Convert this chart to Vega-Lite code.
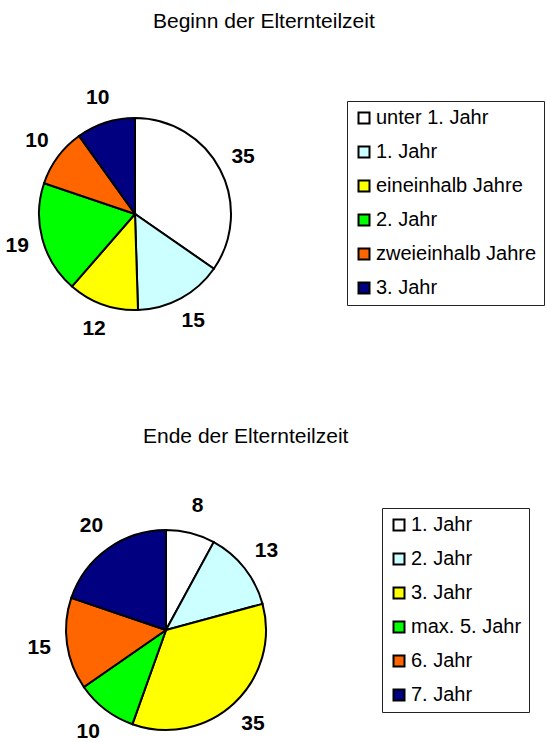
{
  "$schema": "https://vega.github.io/schema/vega-lite/v6.json",
  "padding": {"left": 0, "top": 10, "right": 0, "bottom": 0},
  "background": "white",
  "spacing": 86,
  "config": {
    "view": {"stroke": null},
    "font": "Liberation Sans",
    "title": {"font": "Liberation Sans", "fontSize": 21, "fontWeight": "normal", "color": "black", "anchor": "start"},
    "legend": {
      "orient": "none", "title": null, "symbolType": "square", "symbolSize": 121,
      "symbolStrokeColor": "black", "symbolStrokeWidth": 2, "labelFontSize": 20,
      "labelFont": "Liberation Sans", "labelColor": "black", "rowPadding": 14,
      "labelOffset": 2, "padding": 7, "strokeColor": "#222", "fillColor": "white",
      "labelLimit": 300
    }
  },
  "resolve": {"scale": {"color": "independent", "theta": "independent"}, "legend": {"color": "independent"}},
  "vconcat": [
    {
      "title": {"text": "Beginn der Elternteilzeit", "dx": 153, "offset": 55},
      "width": 270,
      "height": 226,
      "data": {"values": [
        {"Kategorie": "unter 1. Jahr", "Anteil": 35, "nr": 1},
        {"Kategorie": "1. Jahr", "Anteil": 15, "nr": 2},
        {"Kategorie": "eineinhalb Jahre", "Anteil": 12, "nr": 3},
        {"Kategorie": "2. Jahr", "Anteil": 19, "nr": 4},
        {"Kategorie": "zweieinhalb Jahre", "Anteil": 10, "nr": 5},
        {"Kategorie": "3. Jahr", "Anteil": 10, "nr": 6}
      ]},
      "encoding": {
        "theta": {"field": "Anteil", "type": "quantitative", "stack": true},
        "order": {"field": "nr", "type": "quantitative"}
      },
      "layer": [
        {
          "mark": {"type": "arc", "outerRadius": 96, "stroke": "black", "strokeWidth": 2},
          "encoding": {
            "color": {
              "field": "Kategorie", "type": "nominal",
              "scale": {
                "domain": ["unter 1. Jahr", "1. Jahr", "eineinhalb Jahre", "2. Jahr", "zweieinhalb Jahre", "3. Jahr"],
                "range": ["#FFFFFF", "#CCFFFF", "#FFFF00", "#00FF00", "#FF6600", "#000080"]
              },
              "legend": {"legendX": 347, "legendY": 0}
            }
          }
        },
        {
          "mark": {"type": "text", "radius": 122, "fontSize": 21, "fontWeight": "bold", "font": "Liberation Sans", "color": "black"},
          "encoding": {"text": {"field": "Anteil", "type": "quantitative"}}
        }
      ]
    },
    {
      "title": {"text": "Ende der Elternteilzeit", "dx": 143, "offset": 48},
      "width": 332,
      "height": 220,
      "data": {"values": [
        {"Kategorie": "1. Jahr", "Anteil": 8, "nr": 1},
        {"Kategorie": "2. Jahr", "Anteil": 13, "nr": 2},
        {"Kategorie": "3. Jahr", "Anteil": 35, "nr": 3},
        {"Kategorie": "max. 5. Jahr", "Anteil": 10, "nr": 4},
        {"Kategorie": "6. Jahr", "Anteil": 15, "nr": 5},
        {"Kategorie": "7. Jahr", "Anteil": 20, "nr": 6}
      ]},
      "encoding": {
        "theta": {"field": "Anteil", "type": "quantitative", "stack": true},
        "order": {"field": "nr", "type": "quantitative"}
      },
      "layer": [
        {
          "mark": {"type": "arc", "outerRadius": 100, "stroke": "black", "strokeWidth": 2},
          "encoding": {
            "color": {
              "field": "Kategorie", "type": "nominal",
              "scale": {
                "domain": ["1. Jahr", "2. Jahr", "3. Jahr", "max. 5. Jahr", "6. Jahr", "7. Jahr"],
                "range": ["#FFFFFF", "#CCFFFF", "#FFFF00", "#00FF00", "#FF6600", "#000080"]
              },
              "legend": {"legendX": 382, "legendY": -12}
            }
          }
        },
        {
          "mark": {"type": "text", "radius": 128, "fontSize": 21, "fontWeight": "bold", "font": "Liberation Sans", "color": "black"},
          "encoding": {"text": {"field": "Anteil", "type": "quantitative"}}
        }
      ]
    }
  ]
}
